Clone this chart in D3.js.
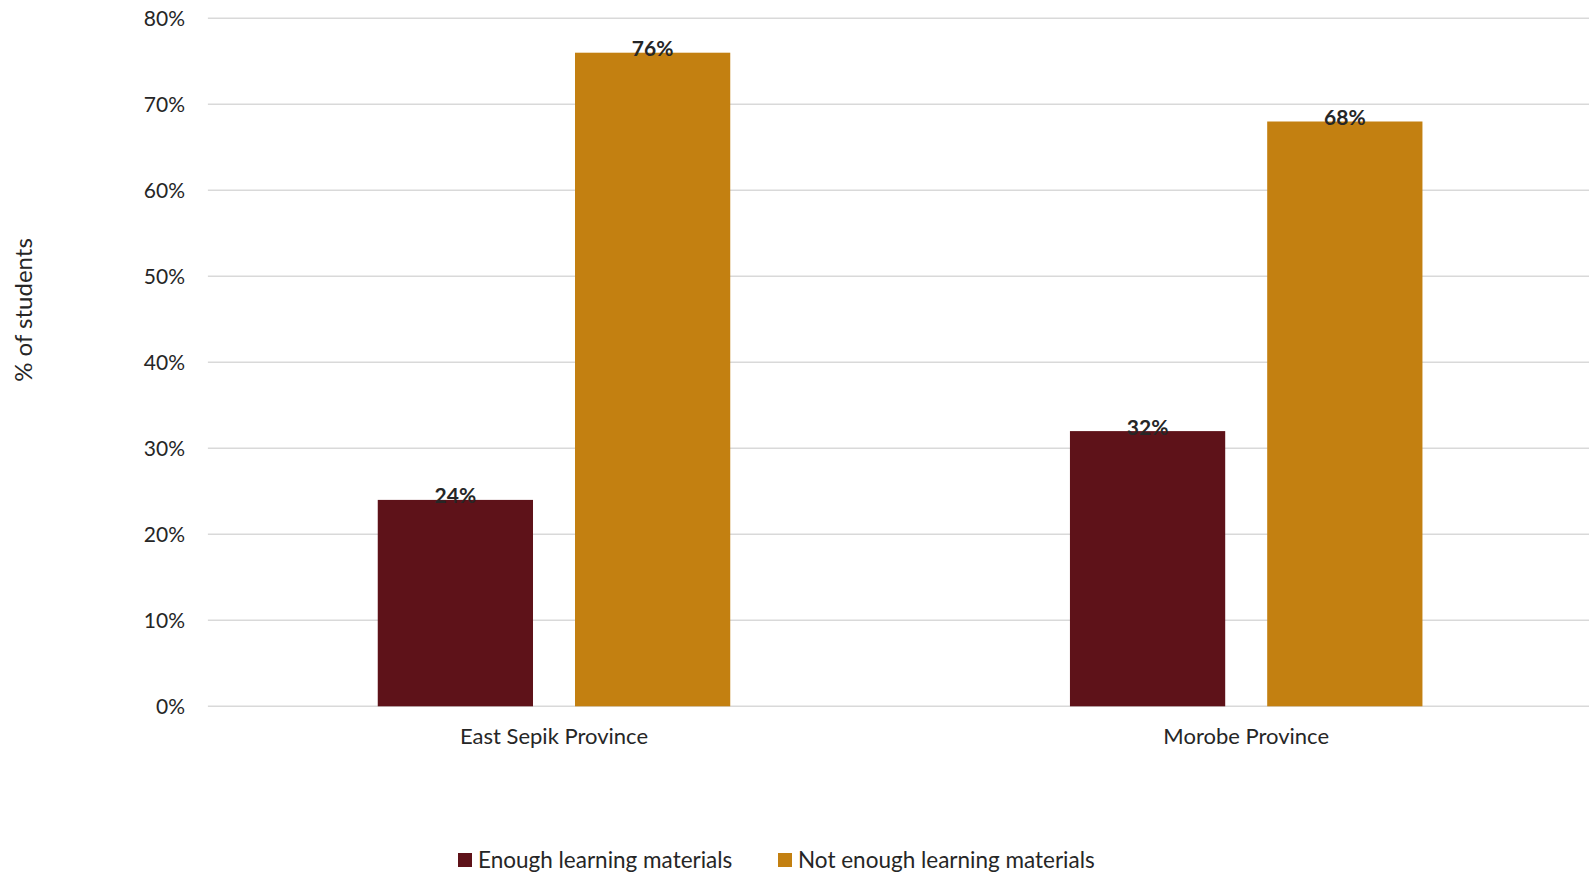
<!DOCTYPE html>
<html>
<head>
<meta charset="utf-8">
<script src="https://cdn.jsdelivr.net/npm/d3@7"></script>
<style>
  html, body { margin: 0; padding: 0; background: #fff; }
  svg { display: block; }
  text { font-family: Lato, "Open Sans", "Liberation Sans", sans-serif; }
</style>
</head>
<body>
<svg id="chart" width="1589" height="874"></svg>
<script>
// Share of students reporting enough / not enough learning materials, by province
const provinces = ["East Sepik Province", "Morobe Province"];
const seriesNames = ["Enough learning materials", "Not enough learning materials"];
const enoughValues = [24, 32];
const notEnoughValues = [76, 68];
const yTicks = [0, 10, 20, 30, 40, 50, 60, 70, 80];
const seriesColors = ["#5E1219", "#C38011"];

const svg = d3.select("#chart");
const plot = { left: 207.9, right: 1592.3, top: 18.3, bottom: 706.3 };

const x0 = d3.scaleBand()
  .domain(provinces)
  .range([plot.left, plot.right])
  .paddingInner(0).paddingOuter(0);

const groupInset = x0.bandwidth() * 169.85 / 692.2;
const x1 = d3.scaleBand()
  .domain(seriesNames)
  .range([groupInset, x0.bandwidth() - groupInset])
  .paddingInner(0.2129).paddingOuter(0);

const y = d3.scaleLinear().domain([0, 80]).range([plot.bottom, plot.top]);

// Gridlines
svg.append("g")
  .selectAll("line")
  .data(yTicks)
  .join("line")
  .attr("x1", plot.left).attr("x2", plot.right)
  .attr("y1", d => y(d)).attr("y2", d => y(d))
  .attr("stroke", "#d9d9d9").attr("stroke-width", 1.5);

// Y axis labels
const yAxis = d3.axisLeft(y).tickValues(yTicks).tickFormat(d => d + "%").tickSize(0).tickPadding(0);
const yg = svg.append("g").attr("transform", "translate(185, 0)").call(yAxis);
yg.select(".domain").remove();
yg.selectAll("text")
  .attr("font-size", 21)
  .attr("fill", "#262626")
  .attr("font-family", "Lato, 'Open Sans', sans-serif");

// Y axis title
svg.append("text")
  .attr("transform", "translate(32, 310) rotate(-90)")
  .attr("text-anchor", "middle")
  .attr("font-size", 24)
  .attr("fill", "#262626")
  .text("% of students");

// Bars
const rows = provinces.map((p, i) => ({
  province: p,
  values: [
    { series: seriesNames[0], value: enoughValues[i], color: seriesColors[0] },
    { series: seriesNames[1], value: notEnoughValues[i], color: seriesColors[1] }
  ]
}));

const groups = svg.append("g")
  .selectAll("g")
  .data(rows)
  .join("g")
  .attr("transform", d => `translate(${x0(d.province)}, 0)`);

groups.selectAll("rect")
  .data(d => d.values)
  .join("rect")
  .attr("x", d => x1(d.series))
  .attr("width", x1.bandwidth())
  .attr("y", d => y(d.value))
  .attr("height", d => y(0) - y(d.value))
  .attr("fill", d => d.color);

// Value labels
groups.selectAll("text.value")
  .data(d => d.values)
  .join("text")
  .attr("class", "value")
  .attr("x", d => x1(d.series) + x1.bandwidth() / 2)
  .attr("y", d => y(d.value) + 3.5)
  .attr("text-anchor", "middle")
  .attr("font-size", 21)
  .attr("font-weight", "bold")
  .attr("fill", "#262626")
  .text(d => d.value + "%");

// Category labels
svg.append("g")
  .selectAll("text")
  .data(provinces)
  .join("text")
  .attr("x", d => x0(d) + x0.bandwidth() / 2)
  .attr("y", 744)
  .attr("text-anchor", "middle")
  .attr("font-size", 22)
  .attr("fill", "#262626")
  .text(d => d);

// Legend
const legendX = [458, 778];
const legend = svg.append("g")
  .selectAll("g")
  .data(seriesNames)
  .join("g")
  .attr("transform", (d, i) => `translate(${legendX[i]}, 860)`);
legend.append("rect")
  .attr("x", 0).attr("y", -7)
  .attr("width", 14).attr("height", 14)
  .attr("fill", (d, i) => seriesColors[i]);
legend.append("text")
  .attr("x", 20).attr("y", 8)
  .attr("font-size", 22.5)
  .attr("fill", "#262626")
  .text(d => d);
</script>
</body>
</html>
